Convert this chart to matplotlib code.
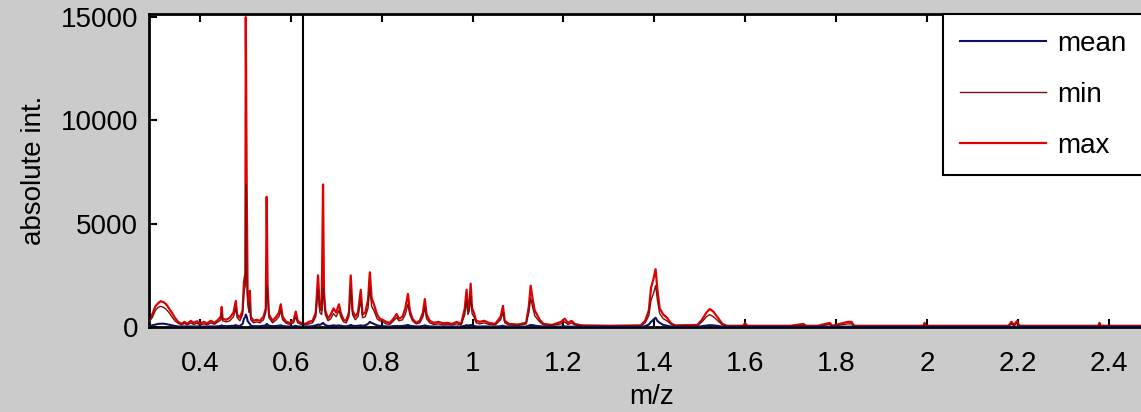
import numpy as np
import matplotlib
matplotlib.use('Agg')
import matplotlib.pyplot as plt

# spectrum profile: m/z, max, min, mean intensity
mz = [0.288, 0.295, 0.302, 0.308, 0.314, 0.320, 0.326, 0.332, 0.338, 0.345,
      0.352, 0.360, 0.366, 0.372, 0.380, 0.386, 0.394, 0.400, 0.408, 0.416,
      0.424, 0.432, 0.440, 0.446, 0.448, 0.450, 0.458, 0.466, 0.474, 0.479,
      0.482, 0.488, 0.494, 0.497, 0.500, 0.501, 0.503, 0.505, 0.508, 0.510,
      0.512, 0.518, 0.525, 0.532, 0.540, 0.545, 0.547, 0.549, 0.552, 0.560,
      0.568, 0.574, 0.578, 0.582, 0.590, 0.598, 0.606, 0.611, 0.615, 0.622,
      0.632, 0.640, 0.648, 0.655, 0.660, 0.664, 0.668, 0.671, 0.673, 0.676,
      0.682, 0.688, 0.694, 0.700, 0.706, 0.710, 0.716, 0.722, 0.728, 0.732,
      0.736, 0.742, 0.748, 0.754, 0.758, 0.764, 0.770, 0.774, 0.778, 0.783,
      0.790, 0.796, 0.802, 0.810, 0.818, 0.826, 0.833, 0.838, 0.846, 0.852,
      0.858, 0.862, 0.868, 0.876, 0.884, 0.891, 0.895, 0.899, 0.906, 0.915,
      0.925, 0.935, 0.945, 0.955, 0.965, 0.975, 0.983, 0.987, 0.990, 0.993,
      0.996, 0.999, 1.003, 1.008, 1.016, 1.026, 1.036, 1.050, 1.062, 1.067,
      1.071, 1.080, 1.100, 1.118, 1.124, 1.128, 1.132, 1.137, 1.142, 1.148,
      1.156, 1.175, 1.195, 1.203, 1.210, 1.218, 1.225, 1.240, 1.300, 1.370,
      1.380, 1.388, 1.393, 1.398, 1.403, 1.407, 1.412, 1.420, 1.428, 1.436,
      1.445, 1.495, 1.505, 1.515, 1.522, 1.530, 1.540, 1.550, 1.560, 1.595,
      1.600, 1.605, 1.700, 1.728, 1.734, 1.760, 1.786, 1.792, 1.826, 1.834,
      1.840, 1.992, 1.995, 1.998, 2.180, 2.186, 2.192, 2.198, 2.204, 2.378,
      2.380, 2.383, 2.500]

int_max = [300, 600, 1000, 1150, 1250, 1200, 1100, 900, 700, 450,
           250, 150, 250, 150, 300, 200, 280, 150, 250, 180,
           300, 200, 350, 500, 970, 400, 350, 450, 700, 1260,
           600, 450, 800, 2200, 2600, 15000, 6900, 1700, 900, 1750,
           500, 300, 350, 300, 500, 900, 6300, 2000, 600, 300,
           500, 700, 1100, 500, 250, 200, 300, 750, 300, 200,
           150, 250, 300, 700, 2500, 900, 800, 6900, 1750, 800,
           400, 600, 900, 700, 1100, 700, 350, 300, 700, 2500,
           800, 500, 700, 1800, 600, 700, 1300, 2650, 1400, 1100,
           600, 400, 350, 250, 200, 400, 630, 400, 500, 900,
           1600, 800, 400, 200, 300, 700, 1350, 600, 300, 200,
           250, 180, 200, 150, 250, 150, 900, 1800, 800, 1100,
           2100, 900, 700, 300, 250, 300, 200, 150, 500, 1020,
           300, 150, 120, 200, 1000, 2000, 1400, 800, 600, 350,
           150, 100, 250, 400, 200, 300, 150, 80, 60, 80,
           300, 800, 1900, 2300, 2800, 1800, 900, 600, 450, 200,
           80, 100, 350, 700, 870, 750, 450, 150, 60, 60,
           180, 60, 60, 150, 60, 60, 200, 60, 250, 250,
           60, 60, 200, 60, 60, 250, 100, 280, 60, 60,
           200, 60, 60]

int_min = [250, 450, 800, 950, 1000, 950, 850, 700, 500, 300,
           180, 100, 180, 100, 200, 120, 180, 100, 150, 100,
           200, 130, 250, 350, 700, 300, 250, 300, 500, 900,
           450, 300, 600, 1700, 2000, 6900, 2400, 1200, 700, 1200,
           350, 200, 250, 200, 350, 700, 2000, 1500, 450, 200,
           350, 500, 800, 350, 180, 120, 200, 500, 200, 130,
           100, 150, 200, 500, 1800, 700, 600, 1900, 1300, 600,
           300, 400, 650, 500, 800, 500, 250, 200, 500, 1800,
           600, 350, 500, 1300, 450, 500, 900, 1900, 1000, 800,
           400, 300, 250, 150, 120, 300, 450, 300, 350, 600,
           1100, 600, 300, 150, 200, 500, 950, 400, 200, 120,
           150, 100, 120, 100, 150, 100, 600, 1300, 600, 800,
           1500, 650, 500, 200, 150, 200, 120, 100, 350, 700,
           200, 100, 80, 150, 700, 1400, 1000, 550, 400, 250,
           100, 80, 150, 250, 120, 200, 100, 50, 40, 50,
           200, 550, 1300, 1600, 2000, 1300, 650, 400, 300, 150,
           50, 60, 250, 500, 600, 500, 300, 100, 40, 40,
           100, 40, 40, 80, 40, 40, 120, 40, 150, 150,
           40, 40, 120, 40, 40, 150, 60, 180, 40, 40,
           120, 40, 40]

int_mean = [50, 80, 120, 150, 160, 160, 140, 110, 80, 50,
            30, 20, 30, 20, 30, 20, 30, 20, 20, 20,
            30, 20, 40, 50, 80, 50, 40, 50, 60, 90,
            60, 50, 150, 400, 500, 600, 500, 300, 200, 150,
            60, 40, 40, 40, 60, 80, 150, 120, 60, 40,
            50, 70, 80, 50, 30, 20, 30, 60, 30, 20,
            20, 30, 40, 80, 120, 100, 150, 200, 150, 100,
            50, 60, 80, 60, 80, 60, 40, 30, 60, 100,
            60, 50, 60, 80, 60, 80, 150, 250, 200, 150,
            80, 50, 40, 30, 20, 40, 50, 40, 50, 70,
            100, 60, 40, 30, 30, 50, 80, 50, 30, 20,
            20, 20, 20, 20, 20, 20, 60, 90, 70, 80,
            100, 70, 50, 30, 20, 30, 20, 20, 40, 60,
            30, 20, 20, 20, 70, 100, 90, 70, 50, 40,
            20, 15, 20, 30, 20, 20, 15, 10, 10, 10,
            40, 120, 250, 350, 450, 300, 200, 100, 60, 30,
            10, 10, 40, 70, 90, 80, 50, 20, 10, 10,
            15, 10, 10, 10, 10, 10, 15, 10, 20, 20,
            10, 10, 15, 10, 10, 15, 10, 15, 10, 10,
            15, 10, 10]

marker_mz = 0.627
x_ticks = [0.4, 0.6, 0.8, 1.0, 1.2, 1.4, 1.6, 1.8, 2.0, 2.2, 2.4]
x_tick_labels = ['0.4', '0.6', '0.8', '1', '1.2', '1.4', '1.6', '1.8', '2', '2.2', '2.4']
y_ticks = [0, 5000, 10000, 15000]

plt.rcParams['font.family'] = ['Liberation Sans', 'DejaVu Sans']
plt.rcParams['font.size'] = 20

fig = plt.figure(figsize=(11.41, 4.12), dpi=100)
fig.patch.set_facecolor('#cbcbcb')
ax = fig.add_axes([0.1306, 0.2063, 0.8808, 0.7597])

ax.plot(mz, int_mean, color='#101060', linewidth=1.5, label='mean', zorder=4)
ax.plot(mz, int_min, color='#7a1010', linewidth=1.0, label='min', zorder=3)
ax.plot(mz, int_max, color='#e00000', linewidth=1.6, label='max', zorder=2)
ax.axvline(marker_mz, color='black', linewidth=1.5, zorder=5)

ax.set_xlim(0.288, 2.5)
ax.set_ylim(0, 15150)
ax.set_xticks(x_ticks)
ax.set_xticklabels(x_tick_labels)
ax.set_yticks(y_ticks)
ax.tick_params(direction='in', length=6, width=1.5, top=True, right=True,
               labelsize=20)
ax.tick_params(axis='y', pad=8)
ax.tick_params(axis='x', pad=17)
for s in ax.spines.values():
    s.set_linewidth(2)
    s.set_color('black')

ax.set_xlabel('m/z', fontsize=20, labelpad=5)
ax.set_ylabel('absolute int.', fontsize=20, labelpad=10)

leg = ax.legend(loc='upper left', bbox_to_anchor=(943 / 1141, 1 - 14 / 412),
                bbox_transform=fig.transFigure, fontsize=20, frameon=True,
                fancybox=False, framealpha=1, edgecolor='black',
                handlelength=3.1, handletextpad=0.4, labelspacing=0.9,
                borderpad=0.6, borderaxespad=0)
leg.get_frame().set_linewidth(1.5)

fig.savefig('out.png', dpi=100, facecolor=fig.get_facecolor())
